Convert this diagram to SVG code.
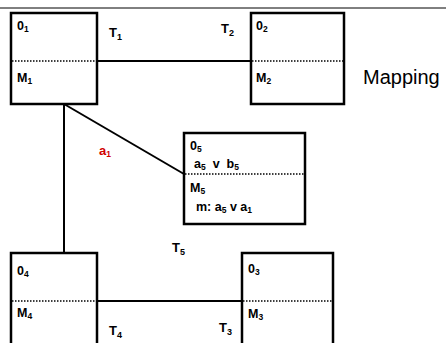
<svg xmlns="http://www.w3.org/2000/svg" width="446" height="343" viewBox="0 0 446 343">
<style>
.box{fill:#fff;stroke:#000;stroke-width:2.5}
.dot{stroke:#000;stroke-width:1.5;stroke-dasharray:1.5 1.5}
.ln{stroke:#000;stroke-width:2;fill:none}
text{font-family:"Liberation Sans",Arial,sans-serif;font-weight:bold;font-size:12.5px;fill:#000;white-space:pre}
.sub{font-size:8.5px}
.T{font-size:13px}
.Ts{font-size:9px}
.map{font-weight:normal;font-size:20px}
.red{fill:#d00000;font-size:13px}
</style>
<rect width="446" height="343" fill="#fff"/>
<line x1="0" y1="8" x2="446" y2="8" stroke="#000" stroke-width="1"/>
<g id="connectors">
<line class="ln" x1="97" y1="61" x2="251" y2="61"/>
<line class="ln" x1="64" y1="104" x2="184" y2="174"/>
<line class="ln" x1="64" y1="104" x2="64" y2="253"/>
<line class="ln" x1="97" y1="301" x2="242" y2="301"/>
</g>
<g id="node1">
<rect class="box" x="11" y="13" width="86" height="91"/>
<line class="dot" x1="12" y1="61" x2="96" y2="61"/>
<text x="17" y="30">0<tspan class="sub" dy="2">1</tspan></text>
<text x="17" y="82">M<tspan class="sub" dy="2">1</tspan></text>
</g>
<g id="node2">
<rect class="box" x="251" y="13" width="93" height="91"/>
<line class="dot" x1="252" y1="61" x2="343" y2="61"/>
<text x="256" y="30">0<tspan class="sub" dy="2">2</tspan></text>
<text x="256" y="82">M<tspan class="sub" dy="2">2</tspan></text>
</g>
<g id="node5">
<rect class="box" x="184" y="133" width="121" height="91"/>
<line class="dot" x1="185" y1="174" x2="304" y2="174"/>
<text x="190" y="150">0<tspan class="sub" dy="2">5</tspan></text>
<text x="194" y="168">a<tspan class="sub" dy="2">5</tspan><tspan dy="-2">  v  b</tspan><tspan class="sub" dy="2">5</tspan></text>
<text x="190" y="192">M<tspan class="sub" dy="2">5</tspan></text>
<text x="196" y="211">m: a<tspan class="sub" dy="2">5</tspan><tspan dy="-2"> v a</tspan><tspan class="sub" dy="2">1</tspan></text>
</g>
<g id="node4">
<rect class="box" x="11" y="253" width="86" height="100"/>
<line class="dot" x1="12" y1="301" x2="96" y2="301"/>
<text x="17" y="275">0<tspan class="sub" dy="2">4</tspan></text>
<text x="17" y="317">M<tspan class="sub" dy="2">4</tspan></text>
</g>
<g id="node3">
<rect class="box" x="242" y="253" width="91" height="100"/>
<line class="dot" x1="243" y1="301" x2="332" y2="301"/>
<text x="248" y="273">0<tspan class="sub" dy="2">3</tspan></text>
<text x="248" y="318">M<tspan class="sub" dy="2">3</tspan></text>
</g>
<g id="labels">
<text class="T" x="109" y="37">T<tspan class="Ts" dy="3">1</tspan></text>
<text class="T" x="221" y="33">T<tspan class="Ts" dy="3">2</tspan></text>
<text class="T" x="172" y="252">T<tspan class="Ts" dy="3">5</tspan></text>
<text class="T" x="109" y="335">T<tspan class="Ts" dy="3">4</tspan></text>
<text class="T" x="219" y="332">T<tspan class="Ts" dy="3">3</tspan></text>
<text class="red" x="99" y="155">a<tspan class="sub" dy="2">1</tspan></text>
<text class="map" x="363" y="84">Mapping</text>
</g>
</svg>
